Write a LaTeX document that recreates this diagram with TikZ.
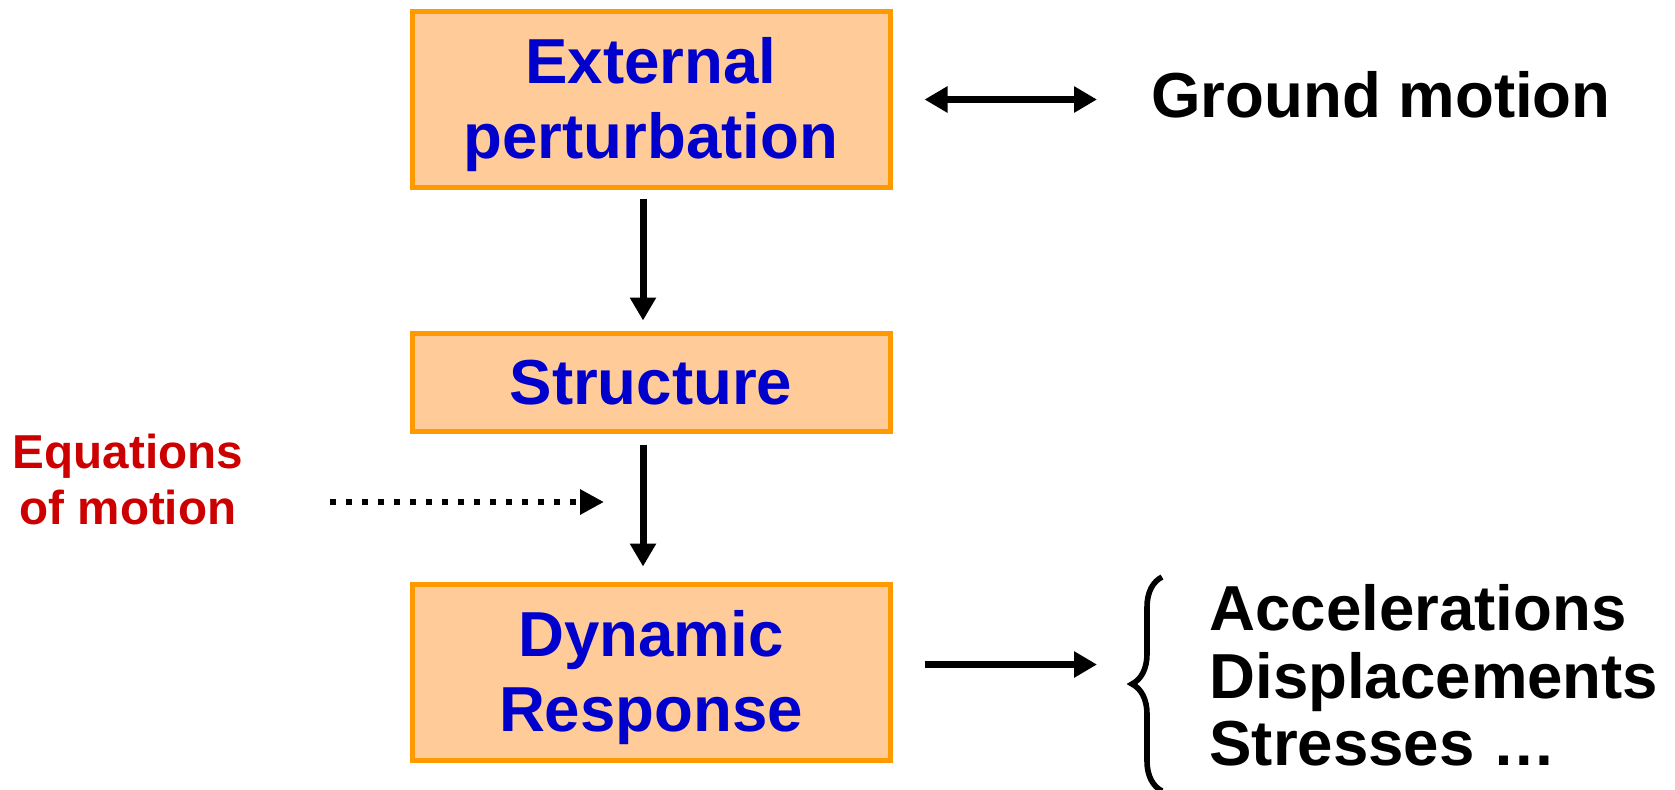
\documentclass[tikz,border=0pt]{standalone}
\usepackage{fontspec}
\setmainfont{Liberation Sans}
\usetikzlibrary{arrows.meta,decorations.pathreplacing,positioning}
\definecolor{boxfill}{HTML}{FFCC99}
\definecolor{boxline}{HTML}{FF9900}
\definecolor{txtblue}{HTML}{0000CC}
\definecolor{eqred}{HTML}{CC0000}

\begin{document}
\begin{tikzpicture}[x=0.5pt,y=-0.5pt,
  box/.style={draw=boxline,fill=boxfill,line width=2.5pt,minimum width=239pt,
    align=center,text=txtblue,font=\bfseries\fontsize{31.8}{37.5}\selectfont},
  twoline/.style={minimum height=88pt,text height=65.5pt,text depth=6.7pt},
  fw/.style={-{Triangle[length=11.5pt,width=12.5pt]},line width=3.5pt},
  dw/.style={{Triangle[length=11.5pt,width=12.5pt]}-{Triangle[length=11.5pt,width=12.5pt]},line width=3.5pt},
  dots/.style={-{Triangle[length=12pt,width=12pt]},line width=3pt,dash pattern=on 3pt off 5pt},
  lab/.style={font=\bfseries\fontsize{31.8}{36}\selectfont,inner sep=0pt,anchor=base west}]
  \useasboundingbox (0,0) rectangle (1675,789);
  % the three blocks
  \node[box,twoline] (ext) at (651,99.5) {External\\perturbation};
  \node[box,minimum height=49pt] (struc) at (651,382.5) {Structure};
  \node[box,twoline] (resp) at (651,672.5) {Dynamic\\Response};
  % side texts
  \node[lab] (gm) at (1151,117.5) {Ground motion};
  \node[lab] (acc) at (1209,630) {Accelerations};
  \node[lab] (disp) at (1209,698) {Displacements};
  \node[lab] (str) at (1209,765) {Stresses …};
  \node[font=\bfseries\fontsize{23.8}{28}\selectfont,text=eqred,align=center,inner sep=0pt]
    (eqm) at (128,479) {Equations\\of motion};
  \coordinate (eqin) at (604,502);
  % arrows
  \draw[fw,shorten <=4.25pt,shorten >=5.25pt] ([xshift=-4pt]ext.south) -- ([xshift=-4pt]struc.north);
  \draw[fw,shorten <=5.25pt,shorten >=7.75pt] ([xshift=-4pt]struc.south) -- ([xshift=-4pt]resp.north);
  \draw[dw,shorten <=16pt,shorten >=27pt] (ext.east) -- (ext.east -| gm.west);
  \draw[fw,shorten <=16pt,shorten >=56pt] ([yshift=4pt]resp.east) -- ([yshift=4pt]resp.east -| acc.west);
  \draw[dots,shorten <=43.5pt] (eqm.east |- eqin) -- (eqin);
  \draw[line width=2.8pt,decorate,decoration={brace,amplitude=15pt}] (1162,791) -- (1162,577);
\end{tikzpicture}
\end{document}
